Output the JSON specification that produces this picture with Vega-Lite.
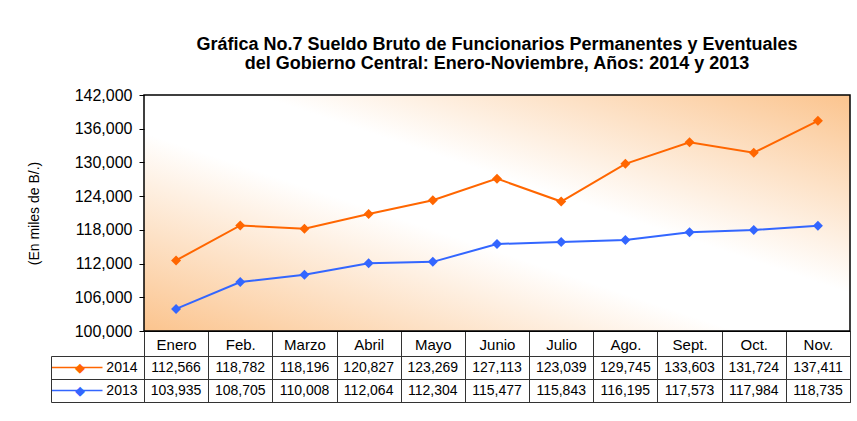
{
  "$schema": "https://vega.github.io/schema/vega-lite/v6.json",
  "background": "white",
  "padding": {"left": 26, "top": 35, "right": 5, "bottom": 5},
  "spacing": 25,
  "bounds": "flush",
  "datasets": {
    "series": [
      {"month": "Enero", "series": "2014", "value": 112566},
      {"month": "Feb.", "series": "2014", "value": 118782},
      {"month": "Marzo", "series": "2014", "value": 118196},
      {"month": "Abril", "series": "2014", "value": 120827},
      {"month": "Mayo", "series": "2014", "value": 123269},
      {"month": "Junio", "series": "2014", "value": 127113},
      {"month": "Julio", "series": "2014", "value": 123039},
      {"month": "Ago.", "series": "2014", "value": 129745},
      {"month": "Sept.", "series": "2014", "value": 133603},
      {"month": "Oct.", "series": "2014", "value": 131724},
      {"month": "Nov.", "series": "2014", "value": 137411},
      {"month": "Enero", "series": "2013", "value": 103935},
      {"month": "Feb.", "series": "2013", "value": 108705},
      {"month": "Marzo", "series": "2013", "value": 110008},
      {"month": "Abril", "series": "2013", "value": 112064},
      {"month": "Mayo", "series": "2013", "value": 112304},
      {"month": "Junio", "series": "2013", "value": 115477},
      {"month": "Julio", "series": "2013", "value": 115843},
      {"month": "Ago.", "series": "2013", "value": 116195},
      {"month": "Sept.", "series": "2013", "value": 117573},
      {"month": "Oct.", "series": "2013", "value": 117984},
      {"month": "Nov.", "series": "2013", "value": 118735}
    ]
  },
  "data": {"name": "series"},
  "config": {
    "font": "Liberation Sans",
    "axis": {"labelColor": "#000", "titleColor": "#000"}
  },
  "vconcat": [
    {
      "width": 706,
      "height": 236,
      "title": {
        "text": ["Gráfica No.7 Sueldo Bruto de Funcionarios Permanentes y Eventuales", "del Gobierno Central: Enero-Noviembre, Años: 2014 y 2013"],
        "font": "Liberation Sans",
        "fontSize": 18,
        "fontWeight": "bold",
        "lineHeight": 19,
        "color": "#000",
        "anchor": "middle",
        "frame": "group",
        "offset": 14
      },
      "view": {
        "fill": {
          "gradient": "linear",
          "x1": 0, "y1": 1, "x2": 1, "y2": 0,
          "stops": [
            {"offset": 0, "color": "#fbc48e"},
            {"offset": 0.42, "color": "#ffffff"},
            {"offset": 0.58, "color": "#ffffff"},
            {"offset": 1, "color": "#fbc48e"}
          ]
        },
        "stroke": "#000",
        "strokeWidth": 1.5
      },
      "encoding": {
        "x": {
          "field": "month", "type": "nominal",
          "sort": ["Enero", "Feb.", "Marzo", "Abril", "Mayo", "Junio", "Julio", "Ago.", "Sept.", "Oct.", "Nov."],
          "scale": {"type": "band", "paddingInner": 0, "paddingOuter": 0},
          "axis": {
            "title": null, "orient": "bottom", "labelAngle": 0,
            "tickBand": "extent", "tickSize": 25, "tickColor": "#333", "tickWidth": 1,
            "labelPadding": -19, "labelFontSize": 15, "labelBaseline": "top",
            "domain": true, "domainColor": "#000", "grid": false,
            "minExtent": 25, "maxExtent": 25
          }
        },
        "y": {
          "field": "value", "type": "quantitative",
          "scale": {"domain": [100000, 142000], "nice": false, "zero": false},
          "axis": {
            "title": "(En miles de B/.)", "titleFontSize": 14, "titleFontWeight": "normal", "titlePadding": 33,
            "values": [100000, 106000, 112000, 118000, 124000, 130000, 136000, 142000],
            "format": ",d", "labelFontSize": 16, "labelPadding": 7,
            "tickSize": 5, "tickColor": "#000", "domain": false, "grid": false
          }
        },
        "color": {
          "field": "series", "type": "nominal",
          "scale": {"domain": ["2014", "2013"], "range": ["#FF6600", "#3366FF"]},
          "legend": null
        }
      },
      "layer": [
        {"mark": {"type": "line", "strokeWidth": 2}},
        {"mark": {"type": "point", "shape": "diamond", "filled": true, "size": 100, "opacity": 1}}
      ]
    },
    {
      "width": 706,
      "height": 46,
      "view": {"stroke": "#333", "strokeWidth": 1},
      "encoding": {
        "x": {
          "field": "month", "type": "nominal",
          "sort": ["Enero", "Feb.", "Marzo", "Abril", "Mayo", "Junio", "Julio", "Ago.", "Sept.", "Oct.", "Nov."],
          "scale": {"type": "band", "paddingInner": 0, "paddingOuter": 0},
          "axis": {
            "title": null, "orient": "bottom", "labels": false, "ticks": false, "domain": false,
            "grid": true, "tickBand": "extent", "gridColor": "#333", "gridOpacity": 1,
            "minExtent": 0, "maxExtent": 0
          }
        }
      },
      "layer": [
        {
          "mark": {"type": "text", "font": "Liberation Sans", "fontSize": 14, "color": "#000"},
          "encoding": {
            "y": {
              "field": "series", "type": "nominal", "sort": ["2014", "2013"],
              "scale": {"type": "band", "paddingInner": 0, "paddingOuter": 0},
              "axis": {
                "orient": "left", "title": null, "domain": false,
                "ticks": true, "tickSize": 93, "tickBand": "extent", "tickColor": "#333",
                "labelPadding": -86, "labelFontSize": 14, "labelFont": "Liberation Sans",
                "grid": true, "gridColor": "#333", "gridOpacity": 1
              }
            },
            "text": {"field": "value", "type": "quantitative", "format": ",d"}
          }
        },
        {
          "mark": {"type": "text", "opacity": 0},
          "encoding": {
            "y": {
              "field": "series", "type": "nominal", "sort": ["2014", "2013"],
              "scale": {"type": "band", "paddingInner": 0, "paddingOuter": 0},
              "axis": {
                "orient": "left", "offset": 93, "title": null,
                "domain": true, "domainColor": "#333",
                "ticks": true, "tickSize": -51, "tickWidth": 1.5, "tickBand": "center",
                "tickColor": {"condition": {"test": "datum.value === '2014'", "value": "#FF6600"}, "value": "#3366FF"},
                "labelExpr": "'◆'",
                "labelColor": {"condition": {"test": "datum.value === '2014'", "value": "#FF6600"}, "value": "#3366FF"},
                "labelAlign": "center", "labelPadding": 23, "labelFontSize": 13,
                "grid": false
              }
            },
            "text": {"field": "value", "type": "quantitative"}
          }
        }
      ],
      "resolve": {"axis": {"y": "independent"}}
    }
  ]
}
